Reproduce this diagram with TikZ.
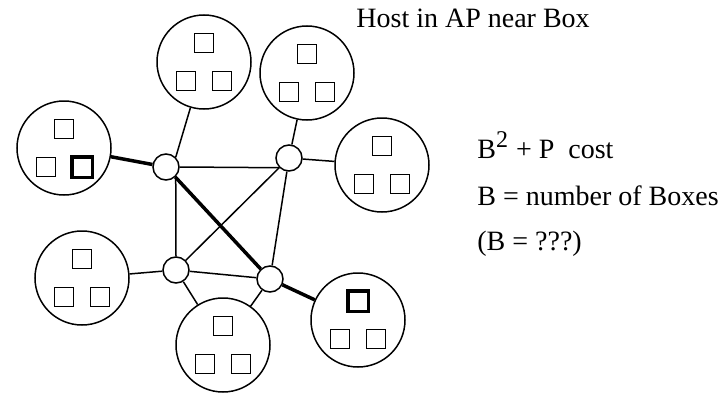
\documentclass[tikz,border=0pt]{standalone}
\usepackage{fontspec}
\setmainfont{Liberation Serif}
\usetikzlibrary{positioning}

\begin{document}
\begin{tikzpicture}[x=0.5pt, y=-0.5pt, font=\fontsize{14}{17}\selectfont,
    hostcirc/.style={draw, circle, line width=0.75pt, minimum size=47pt, inner sep=0pt},
    apcirc/.style={draw, circle, line width=0.75pt, minimum size=13pt, inner sep=0pt},
    boxsq/.style={draw, rectangle, line width=0.75pt, minimum size=9.5pt, inner sep=0pt},
    link/.style={line width=0.75pt},
    heavylink/.style={line width=1.75pt}]
    \useasboundingbox (0,0) rectangle (723,412);

    % Hosts
    \node [hostcirc] (host1) at (204,62) {};
    \node [hostcirc] (host2) at (307,73) {};
    \node [hostcirc] (host3) at (64,148) {};
    \node [hostcirc] (host4) at (382,165) {};
    \node [hostcirc] (host5) at (82,278) {};
    \node [hostcirc] (host6) at (358,320) {};
    \node [hostcirc] (host7) at (223,345) {};

    % Boxes inside each host
    \foreach \h in {host1,host2,host3,host4,host5,host6,host7} {
        \node [boxsq] (\h-t) at ([shift={(0,-19)}]\h.center) {};
        \node [boxsq] (\h-l) at ([shift={(-18,19)}]\h.center) {};
        \node [boxsq] (\h-r) at ([shift={(18,19)}]\h.center) {};
    }
    \draw [heavylink] (host3-r.south west) rectangle (host3-r.north east);
    \draw [heavylink] (host6-t.south west) rectangle (host6-t.north east);

    % Access points
    \node [apcirc] (apa) at (166,167) {};
    \node [apcirc] (apb) at (289,158) {};
    \node [apcirc] (apc) at (176,270) {};
    \node [apcirc] (apd) at (270,279) {};

    % Links between access points
    \draw [link] (apa.east) -- (apb.225);
    \draw [link] (apa.-45) -- (apc.north);
    \draw [heavylink] (apa) -- (apd);
    \draw [link] (apb) -- (apc);
    \draw [link] (apb) -- (apd);
    \draw [link] (apc) -- (apd);

    % Links to hosts
    \draw [link] (apa.45) -- (host1);
    \draw [heavylink] (apa) -- (host3);
    \draw [link] (apb) -- (host2);
    \draw [link] (apb) -- (host4);
    \draw [link] (apc) -- (host5);
    \draw [link] (apc) -- (host7);
    \draw [link] (apd) -- (host7);
    \draw [heavylink] (apd) -- (host6);

    % Labels
    \node [anchor=base west, inner sep=0pt] (title) at (356,27) {Host in AP near Box};
    \node [anchor=base west, inner sep=0pt] (cost) at (477,158) {B\textsuperscript{\large 2} + P\ \ cost};
    \node [anchor=base west, inner sep=0pt] (bdef) at (477,205) {B = number of Boxes};
    \node [anchor=base west, inner sep=0pt] (bval) at (477,250) {(B = ???)};
\end{tikzpicture}
\end{document}
